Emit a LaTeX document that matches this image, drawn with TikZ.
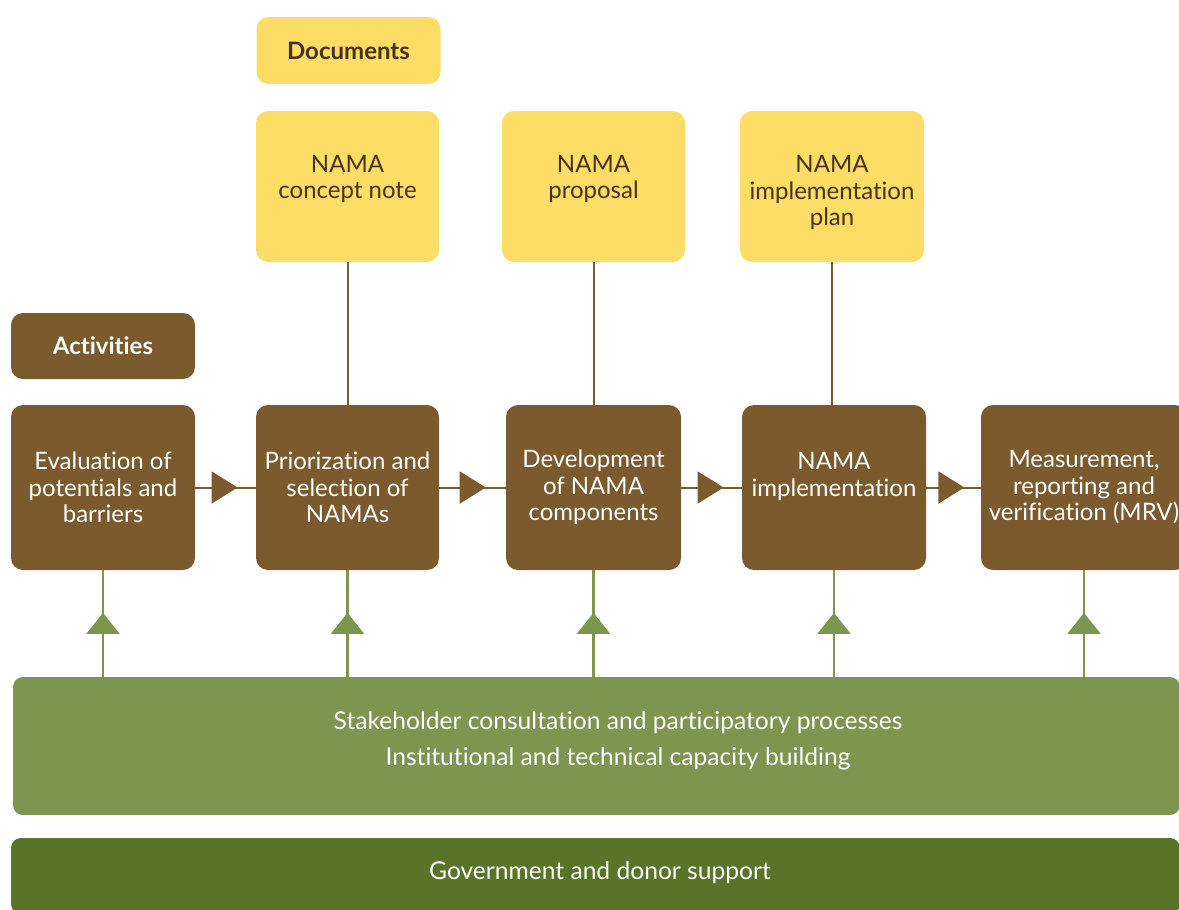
\documentclass[tikz,border=0pt]{standalone}
\usepackage{fontspec}
\setmainfont{Lato}[Ligatures=NoCommon]
\usetikzlibrary{arrows.meta,decorations.markings}

\definecolor{docyellow}{HTML}{FDDD66}
\definecolor{doctext}{HTML}{4A3210}
\definecolor{actbrown}{HTML}{7B5A2D}
\definecolor{lightgreen}{HTML}{7E9550}
\definecolor{darkgreen}{HTML}{577428}

\begin{document}
\begin{tikzpicture}[x=0.5pt,y=-0.5pt,
    boxfont/.style={font=\fontsize{12}{13.25}\selectfont},
    docbox/.style={rectangle,rounded corners=6pt,fill=docyellow,text=doctext,
      minimum width=91.5pt,minimum height=75.5pt,inner sep=0pt,align=center,boxfont},
    actbox/.style={rectangle,rounded corners=6pt,fill=actbrown,text=white,
      minimum width=92pt,minimum height=82.5pt,inner sep=0pt,align=center,boxfont},
    headbox/.style={rectangle,rounded corners=6pt,minimum width=92pt,
      minimum height=33.5pt,inner sep=0pt,font=\fontsize{12}{13}\selectfont\bfseries},
    band/.style={rectangle,rounded corners=5pt,inner sep=0pt},
    bandtext/.style={text=white,align=center,inner sep=0pt,
      font=\fontsize{12.3}{18}\selectfont},
    flowline/.style={draw=actbrown,line width=1pt,postaction={decorate},
      decoration={markings,mark=at position 0.7 with
        {\arrow[actbrown]{Triangle[length=13pt,width=16pt]}}}},
    docline/.style={draw=actbrown,line width=1pt},
    supportline/.style={draw=lightgreen,line width=1.1pt,postaction={decorate},
      decoration={markings,mark=at position 0.6 with
        {\arrow[lightgreen]{Triangle[length=10.5pt,width=16.5pt]}}}}]

    \useasboundingbox (0,0) rectangle (1179,910);
    \clip (0,0) rectangle (1179,910);

    % documents
    \node [headbox,fill=docyellow,text=doctext] (docshead) at (348.5,50.5) {Documents};

    \node [docbox] (concept) at (347.5,186.5) {\rule{0pt}{12pt}NAMA\\concept note\\\mbox{}};
    \node [docbox] (proposal) at (593.5,186.5) {\rule{0pt}{12pt}NAMA\\proposal\\\mbox{}};
    \node [docbox,minimum width=92pt] (implplan) at (832,186.5)
    {\rule{0pt}{15pt}NAMA\\implementation\\plan};

    % activities
    \node [headbox,fill=actbrown,text=white,minimum height=33pt] (actshead)
    at (103,346) {Activities};

    \node [actbox] (evaluate) at (103,487.5)
    {Evaluation of\\potentials and\\barriers};
    \node [actbox,minimum width=91.5pt] (prioritize) at (347.5,487.5)
    {Priorization and\\selection of\\NAMAs};
    \node [actbox,minimum width=87.5pt] (develop) at (593.5,487.5)
    {Development\\of NAMA\\components};
    \node [actbox] (implement) at (834,487.5)
    {NAMA\\implementation\\\mbox{}};
    \node [actbox,minimum width=103pt] (mrv) at (1084,487.5)
    {Measurement,\\reporting and\\verification (MRV)};

    % bands
    \node [band,fill=lightgreen,minimum width=583.5pt,minimum height=69pt]
    (stake) at (596.5,746) {};
    \node [bandtext] (staketext) at (618,741)
    {Stakeholder consultation and participatory processes\\
     Institutional and technical capacity building};

    \node [band,fill=darkgreen,minimum width=584.5pt,minimum height=38pt]
    (support) at (595.5,876) {};
    \node [bandtext] (supporttext) at (600,873) {Government and donor support};

    \draw [flowline] (evaluate.east) -- (prioritize.west);
    \draw [flowline] (prioritize.east) -- (develop.west);
    \draw [flowline] (develop.east) -- (implement.west);
    \draw [flowline] (implement.east) -- (mrv.west);

    \draw [docline] (concept.south) -- (concept.south |- prioritize.north);
    \draw [docline] (proposal.south) -- (proposal.south |- develop.north);
    \draw [docline] (implplan.south) -- (implplan.south |- implement.north);

    \draw [supportline] (evaluate.south |- stake.north) -- (evaluate.south);
    \draw [supportline] (prioritize.south |- stake.north) -- (prioritize.south);
    \draw [supportline] (develop.south |- stake.north) -- (develop.south);
    \draw [supportline] (implement.south |- stake.north) -- (implement.south);
    \draw [supportline] (mrv.south |- stake.north) -- (mrv.south);
\end{tikzpicture}
\end{document}
